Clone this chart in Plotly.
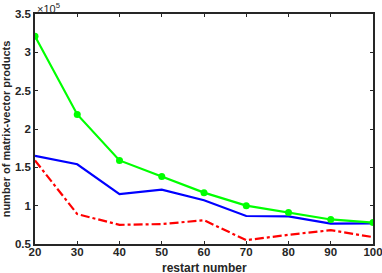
import plotly.graph_objects as go

# values in units of 1e5
restart = [20, 30, 40, 50, 60, 70, 80, 90, 100]
green_vals = [3.21, 2.19, 1.59, 1.38, 1.17, 1.00, 0.91, 0.82, 0.78]
blue_vals = [1.65, 1.54, 1.15, 1.21, 1.07, 0.865, 0.86, 0.765, 0.77]
red_vals = [1.59, 0.89, 0.75, 0.76, 0.81, 0.55, 0.62, 0.68, 0.59]
y_ticks = [0.5, 1, 1.5, 2, 2.5, 3, 3.5]
y_ticktext = ["0.5", "1", "1.5", "2", "2.5", "3", "3.5"]

fig = go.Figure()
fig.add_trace(go.Scatter(x=restart, y=blue_vals, mode="lines",
                         line=dict(color="#0000ff", width=2.2)))
fig.add_trace(go.Scatter(x=restart, y=red_vals, mode="lines",
                         line=dict(color="#ff0000", width=2.2, dash="dashdot")))
fig.add_trace(go.Scatter(x=restart, y=green_vals, mode="lines+markers",
                         line=dict(color="#00ff00", width=2.2),
                         marker=dict(color="#00ff00", size=7)))

axis_common = dict(showline=True, linecolor="#262626", linewidth=1.5, mirror="ticks",
                   ticks="inside", ticklen=3, tickwidth=1.2, tickcolor="#262626",
                   showgrid=False, zeroline=False, automargin=False,
                   ticklabeloverflow="allow",
                   tickfont=dict(family="Liberation Sans", size=11.5, color="#262626", weight="bold"))

fig.update_layout(
    width=382, height=273,
    margin=dict(l=35, r=9, t=14, b=29),
    plot_bgcolor="white", paper_bgcolor="white",
    showlegend=False,
    font=dict(family="Liberation Sans", color="#262626"),
    xaxis=dict(range=[20, 100], tickvals=restart, ticklabelstandoff=-4, **axis_common),
    yaxis=dict(range=[0.5, 3.5], tickvals=y_ticks, ticktext=y_ticktext,
               title=dict(text="number of matrix-vector products",
                          font=dict(size=11, weight="bold"), standoff=6),
               **axis_common),
    annotations=[
        dict(text="×10<sup>5</sup>", xref="paper", yref="paper", x=0, y=1,
             xanchor="left", yanchor="bottom", showarrow=False,
             font=dict(size=11, color="#262626"), yshift=-3),
        dict(text="restart number", xref="paper", yref="paper", x=0.5, y=-0.104,
             xanchor="center", yanchor="middle", showarrow=False,
             font=dict(size=12, color="#262626", weight="bold")),
    ],
)

fig.write_html("out.html", config={"displayModeBar": False},
               post_script="document.body.style.margin='0';")
